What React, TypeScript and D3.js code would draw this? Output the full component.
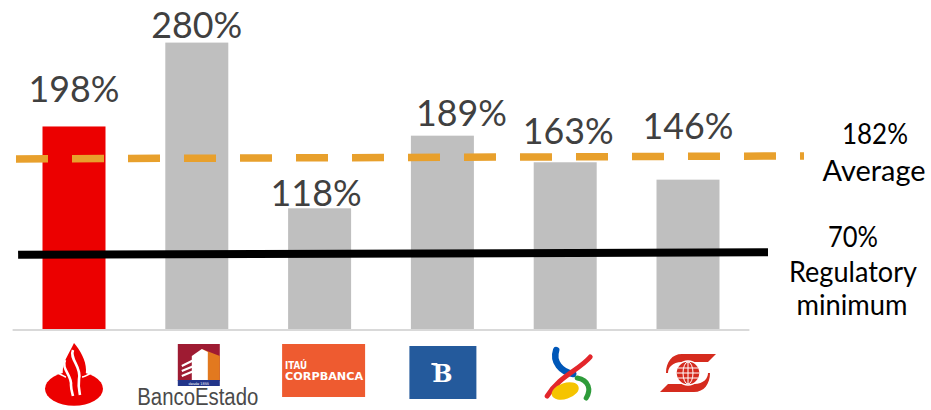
import React from "react";
import * as d3 from "d3";

// ---------- data ----------
const banks = ["Santander", "BancoEstado", "Itaú Corpbanca", "Banco de Chile", "BCI", "Scotiabank"];
const ratios = [198, 280, 118, 189, 163, 146];
const barColors = ["#EC0000", "#BFBFBF", "#BFBFBF", "#BFBFBF", "#BFBFBF", "#BFBFBF"];
const averageValue = 182;
const regulatoryMinimum = 70;
// reference lines as drawn in the picture (level at left end, level at right end)
const averageLineLevels = [166.3, 169.2];
const regulatoryLineLevels = [72.5, 75];

// ---------- layout ----------
const W = 931;
const H = 410;
const labelNudge = [
  [0, -24],
  [0, -4.5],
  [-3.5, -2],
  [19, -10],
  [3, -18],
  [0, -41],
];

export default function App() {
  const x = d3
    .scaleBand<string>()
    .domain(banks)
    .range([12.6, 749.4])
    .paddingInner(0.487)
    .paddingOuter(0.2435);
  const y = d3.scaleLinear().domain([0, 280]).range([329, 42.6]);
  const fmt = (v: number) => `${d3.format("d")(v)}%`;

  const [x0, x1] = x.range();
  const regLine = d3.line<[number, number]>()([
    [x0 + 5.5, y(regulatoryLineLevels[0])],
    [x1 + 18.6, y(regulatoryLineLevels[1])],
  ]);
  const avgLine = d3.line<[number, number]>()([
    [x0 + 3.4, y(averageLineLevels[0])],
    [x1 + 54.6, y(averageLineLevels[1])],
  ]);

  const cx = (b: string) => (x(b) ?? 0) + x.bandwidth() / 2;
  const font = "Lato, 'Open Sans', sans-serif";

  return (
    <svg
      width={W}
      height={H}
      viewBox={`0 0 ${W} ${H}`}
      style={{ position: "absolute", left: 0, top: 0, background: "#fff" }}
    >
      {/* bars */}
      {banks.map((b, i) => (
        <rect
          key={b}
          x={x(b)}
          y={y(ratios[i])}
          width={x.bandwidth()}
          height={y(0) - y(ratios[i])}
          fill={barColors[i]}
        />
      ))}
      {/* axis line */}
      <line x1={x0} x2={x1} y1={y(0) + 1} y2={y(0) + 1} stroke="#D9D9D9" strokeWidth={2} />

      {/* reference lines */}
      <path d={regLine ?? ""} stroke="#000" strokeWidth={8} fill="none" />
      <path
        d={avgLine ?? ""}
        stroke="#E8A02C"
        strokeWidth={7.5}
        strokeDasharray="32 24"
        fill="none"
      />

      {/* value labels */}
      {banks.map((b, i) => (
        <text
          key={b}
          x={cx(b) + labelNudge[i][0]}
          y={y(ratios[i]) + labelNudge[i][1]}
          textAnchor="middle"
          fontFamily={font}
          fontSize={36}
          fill="#404040"
          textLength={91}
          lengthAdjust="spacingAndGlyphs"
        >
          {fmt(ratios[i])}
        </text>
      ))}

      {/* right annotations */}
      <g fontFamily={font} fill="#000" textAnchor="middle" fontSize={28}>
        <text x={875} y={144} textLength={66} lengthAdjust="spacingAndGlyphs">
          {fmt(averageValue)}
        </text>
        <text x={874} y={181} textLength={103} lengthAdjust="spacingAndGlyphs">
          Average
        </text>
        <text x={853} y={247} textLength={50} lengthAdjust="spacingAndGlyphs">
          {fmt(regulatoryMinimum)}
        </text>
        <text x={853} y={282} textLength={128} lengthAdjust="spacingAndGlyphs">
          Regulatory
        </text>
        <text x={852} y={315} textLength={111} lengthAdjust="spacingAndGlyphs">
          minimum
        </text>
      </g>

      {/* logos */}
      <Santander cx={cx(banks[0])} />
      <BancoEstado cx={cx(banks[1])} />
      <Itau cx={cx(banks[2])} />
      <BancoChile cx={cx(banks[3])} />
      <Bci cx={cx(banks[4])} />
      <Scotia cx={cx(banks[5])} />
    </svg>
  );
}

function Santander({ cx }: { cx: number }) {
  return (
    <g transform={`translate(${cx},0)`}>
      <ellipse cx={0} cy={388.7} rx={29} ry={17} fill="#EC0000" />
      <path
        d="M0,343 C6,350 12,360 12,370 C12,380 7,388 5,393 L-6,393 C-10,384 -12,376 -11,368 C-10,360 -4,352 0,343 Z"
        fill="#EC0000"
      />
      <path
        d="M-9,360 C-13,369 -2,375 -3,385 C-3,389 -2,392 -1,396"
        stroke="#fff"
        strokeWidth={2.6}
        fill="none"
      />
      <path
        d="M-1,350 C-5,359 8,367 5,379 C4,386 5,390 6,395"
        stroke="#fff"
        strokeWidth={2.6}
        fill="none"
      />
      <path d="M-16,373 C-10,376 -9,377 -8,377 M8,377 C10,377 12,376 17,373" stroke="#fff" strokeWidth={1.5} fill="none" />
    </g>
  );
}

function BancoEstado({ cx }: { cx: number }) {
  const l = cx - 19;
  return (
    <g>
      <rect x={l} y={344} width={42} height={37} fill="#9E1B32" />
      <polygon
        points={`${l + 24},349 ${l + 42},356 ${l + 42},381 ${l + 24},381`}
        fill="#E2791F"
      />
      <polygon
        points={`${l + 14},356 ${l + 24},349 ${l + 30},352 ${l + 30},381 ${l + 14},381`}
        fill="#fff"
      />
      <path
        d={`M${l + 4},366 L${l + 16},360 M${l + 4},371 L${l + 16},366 M${l + 4},376 L${l + 16},371`}
        stroke="#fff"
        strokeWidth={2}
      />
      <rect x={l} y={380} width={42} height={6} fill="#22358A" />
      <text x={cx + 2} y={384.5} textAnchor="middle" fontSize={3.5} fill="#fff" fontFamily="DejaVu Sans">
        desde 1855
      </text>
      <text
        x={cx + 1}
        y={405}
        textAnchor="middle"
        fontSize={23}
        fill="#4A4A4A"
        fontFamily="'Liberation Sans Narrow', 'Liberation Sans', sans-serif"
        textLength={121}
        lengthAdjust="spacingAndGlyphs"
      >
        BancoEstado
      </text>
    </g>
  );
}

function Itau({ cx }: { cx: number }) {
  const l = cx - 37.5;
  return (
    <g>
      <rect x={l} y={344} width={83} height={53} fill="#EE5B30" />
      <text
        x={l + 3}
        y={369}
        fontSize={10}
        fontWeight="bold"
        fill="#fff"
        fontFamily="'DejaVu Sans', sans-serif"
        textLength={22}
        lengthAdjust="spacingAndGlyphs"
      >
        ITAÚ
      </text>
      <text
        x={l + 3}
        y={380}
        fontSize={10}
        fontWeight="bold"
        fill="#fff"
        fontFamily="'DejaVu Sans', sans-serif"
        textLength={78}
        lengthAdjust="spacingAndGlyphs"
      >
        CORPBANCA
      </text>
    </g>
  );
}

function BancoChile({ cx }: { cx: number }) {
  const l = cx - 33;
  return (
    <g>
      <rect x={l} y={346} width={67} height={53} fill="#245A9C" />
      <text
        x={cx}
        y={382}
        textAnchor="middle"
        fontSize={24}
        fontWeight="bold"
        fill="#fff"
        fontFamily="'DejaVu Serif', serif"
      >
        B
      </text>
      <path d={`M${cx - 11},364 L${cx - 5},364`} stroke="#fff" strokeWidth={2} />
    </g>
  );
}

function Bci({ cx }: { cx: number }) {
  return (
    <g transform={`translate(${cx},0)`}>
      <path d="M-9,350 C-13,362 -4,372 8,374" stroke="#0057B8" strokeWidth={6.5} fill="none" strokeLinecap="round" />
      <path d="M25,357 C14,370 -6,376 -18,396" stroke="#E3262B" strokeWidth={5} fill="none" strokeLinecap="round" />
      <ellipse cx={0} cy={391} rx={14} ry={8} fill="#F5C400" transform="rotate(-18 0 391)" />
      <path d="M12,378 C24,380 26,390 21,398" stroke="#2E9B3A" strokeWidth={5} fill="none" strokeLinecap="round" />
    </g>
  );
}

function Scotia({ cx }: { cx: number }) {
  return (
    <g transform={`translate(${cx},0)`}>
      <path
        d="M-6,354 L28,354 L20,362 L-6,362 C-16,362 -20,368 -20,373 L-22,373 C-22,362 -16,354 -6,354 Z"
        fill="#D52B1E"
      />
      <path
        d="M6,392 L-28,392 L-20,384 L6,384 C16,384 20,378 20,373 L22,373 C22,384 16,392 6,392 Z"
        fill="#D52B1E"
      />
      <circle cx={0} cy={373} r={12} fill="#D52B1E" stroke="#fff" strokeWidth={1.5} />
      <g stroke="#fff" strokeWidth={1} fill="none">
        <ellipse cx={0} cy={373} rx={5} ry={11} />
        <line x1={-11} x2={11} y1={373} y2={373} />
        <line x1={0} x2={0} y1={362} y2={384} />
        <line x1={-10} x2={10} y1={368} y2={368} />
        <line x1={-10} x2={10} y1={378} y2={378} />
      </g>
    </g>
  );
}
